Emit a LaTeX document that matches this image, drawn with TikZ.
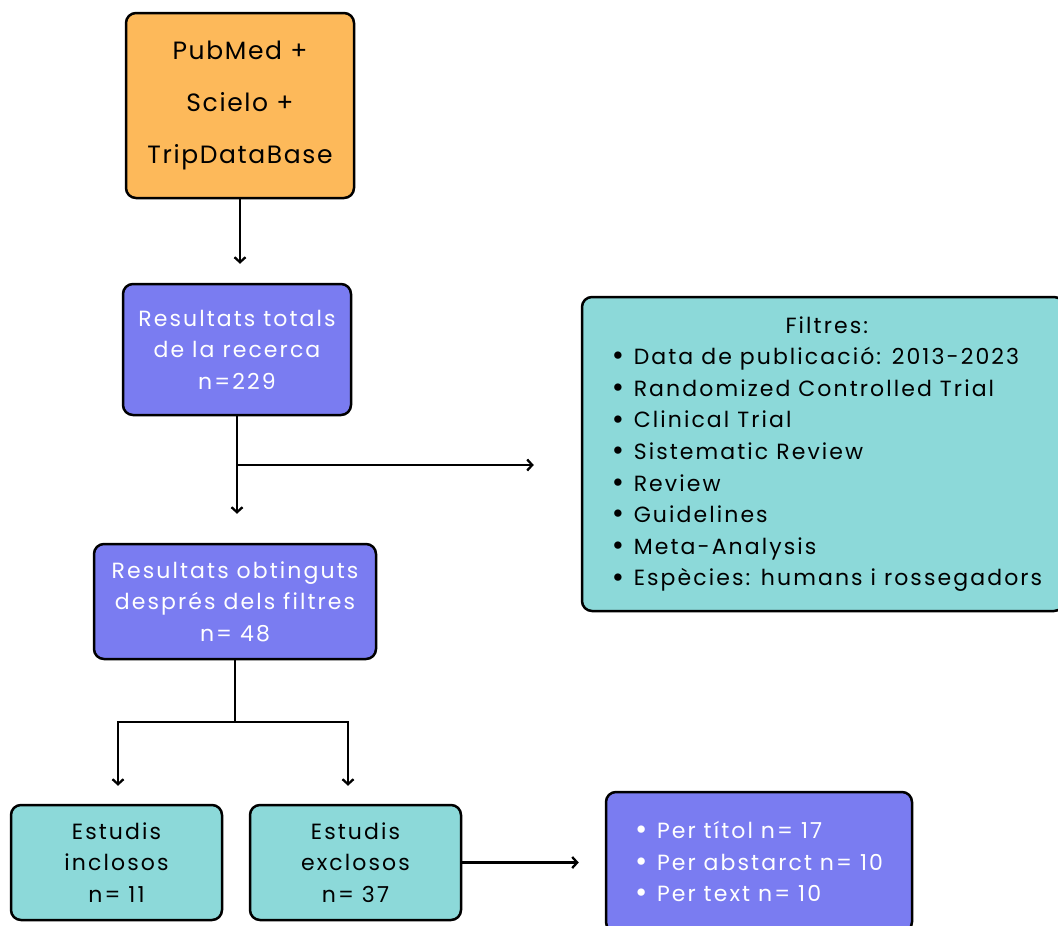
\documentclass[tikz,border=0pt]{standalone}
\usepackage{fontspec}
\usepackage{graphicx}
\setmainfont{Poppins}
\usetikzlibrary{arrows.meta}
\definecolor{corange}{HTML}{FDB95A}
\definecolor{cblue}{HTML}{7A7CF1}
\definecolor{cteal}{HTML}{8CD9D9}
\tikzset{
  box/.style={draw=black, line width=2.5pt, rounded corners=10pt, inner sep=0pt, align=center},
  obox/.style={box, fill=corange, text=black},
  bbox/.style={box, fill=cblue, text=white},
  tbox/.style={box, fill=cteal, text=black},
  txt/.style={font=\fontsize{22}{31.6}\selectfont\addfontfeatures{LetterSpace=9.5}},
  bigtxt/.style={font=\fontsize{25}{52}\selectfont\addfontfeatures{LetterSpace=6.5}},
  conn/.style={line width=2.3pt, black},
  arr/.style={conn, -{Straight Barb[length=5pt,width=11pt,line width=2.3pt]}}
}
\newcommand{\blt}{\makebox[22pt][l]{\raisebox{-1.2pt}{\scalebox{1.35}{\textbullet}}}}
\begin{document}
\begin{tikzpicture}[x=1pt,y=-1pt]
\useasboundingbox (0,0) rectangle (1058,926);
\clip (0,0) rectangle (1058,926);
\node[obox, bigtxt, minimum width=228pt, minimum height=185pt] (top) at (240,105.5) {PubMed +\\Scielo +\\TripDataBase};
\node[bbox, txt, minimum width=228pt, minimum height=131pt] (tot) at (237,349.5) {Resultats totals\\de la recerca\\n=229};
\node[tbox, minimum width=482pt, minimum height=314pt] (filt) at (823,454) {};
\node[txt, align=left, inner sep=0pt] (filttxt) at (827,454) {\makebox[430pt][c]{Filtres:}\\
\blt Data de publicació: 2013-2023\\
\blt Randomized Controlled Trial\\
\blt Clinical Trial\\
\blt Sistematic Review\\
\blt Review\\
\blt Guidelines\\
\blt Meta-Analysis\\
\blt Espècies: humans i rossegadors};
\node[bbox, txt, minimum width=282pt, minimum height=115pt] (obt) at (235,601.5) {Resultats obtinguts\\després dels filtres\\n= 48};
\node[tbox, txt, minimum width=211pt, minimum height=115pt] (incl) at (116.5,862.5) {Estudis\\inclosos\\n= 11};
\node[tbox, txt, minimum width=211pt, minimum height=115pt] (excl) at (355.5,862.5) {Estudis\\exclosos\\n= 37};
\node[bbox, txt, align=left, minimum width=306pt, minimum height=140pt] (per) at (759,862) {\blt Per títol n= 17\\
\blt Per abstarct n= 10\\
\blt Per text n= 10};
% connectors
\draw[arr, shorten >=19pt] (top.south) -- (top.south |- tot.north);
\draw[arr, shorten >=29pt] (tot.south) -- (tot.south |- obt.north);
\coordinate (br) at (237,465);
\draw[arr, shorten >=47pt] (br) -- (br -| filt.west);
\coordinate (split) at (235,722);
\coordinate (jl) at (118,722);
\coordinate (jr) at (348,722);
\draw[conn] (obt.south) -- (split);
\draw[conn, line cap=rect] (jl) -- (jr);
\draw[arr, shorten >=18pt] (jl) -- (jl |- incl.north);
\draw[arr, shorten >=18pt] (jr) -- (jr |- excl.north);
\draw[arr, shorten >=26pt] (excl.east) -- (excl.east -| per.west);
\end{tikzpicture}
\end{document}
